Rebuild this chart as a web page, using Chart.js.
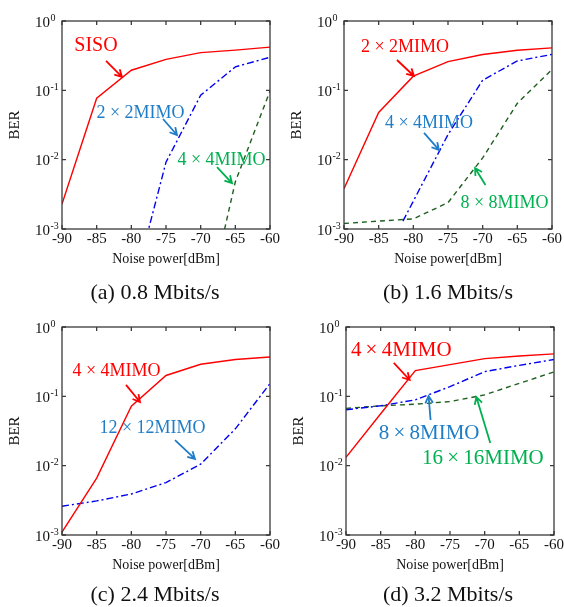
<!DOCTYPE html>
<html><head><meta charset="utf-8">
<script src="https://cdn.jsdelivr.net/npm/chart.js@4/dist/chart.umd.min.js"></script>
<style>
body{margin:0;background:#fff;}
#wrap{position:relative;width:564px;height:607px;overflow:hidden;background:#fff;}
.p{position:absolute;width:282px;height:280px;}
.cap{position:absolute;font-family:'Liberation Serif','Times New Roman',serif;font-size:22px;color:#111;transform:translate(-50%,-50%);white-space:nowrap;z-index:5;}
</style></head><body>
<div id="wrap">
<div class="p" style="left:0;top:0"><canvas id="ca" width="282" height="280"></canvas></div>
<div class="p" style="left:282px;top:0"><canvas id="cb" width="282" height="280"></canvas></div>
<div class="p" style="left:0;top:306px"><canvas id="cc" width="282" height="280"></canvas></div>
<div class="p" style="left:284px;top:306px"><canvas id="cd" width="282" height="280"></canvas></div>
<div class="cap" style="left:155px;top:292px">(a) 0.8 Mbits/s</div>
<div class="cap" style="left:448px;top:292px">(b) 1.6 Mbits/s</div>
<div class="cap" style="left:155px;top:594px">(c) 2.4 Mbits/s</div>
<div class="cap" style="left:448px;top:594px">(d) 3.2 Mbits/s</div>
</div>
<script>
// ---- data ----
const xTicks = [-90, -85, -80, -75, -70, -65, -60];
const yTicks = [1e-3, 1e-2, 1e-1, 1];
const dBm = [-90, -85, -80, -75, -70, -65, -60];

// (a) 0.8 Mbits/s
const aSISO = [0.0023, 0.077, 0.195, 0.28, 0.35, 0.38, 0.42];
const aMIMO2x = [-80, -75, -70, -65, -60];
const aMIMO2 = [0.00011, 0.0092, 0.085, 0.218, 0.30];
const aMIMO4x = [-70, -65, -60];
const aMIMO4 = [0.00003, 0.0048, 0.098];

// (b) 1.6 Mbits/s
const bMIMO2 = [0.0038, 0.048, 0.16, 0.26, 0.328, 0.378, 0.41];
const bMIMO4x = [-81.5, -75, -70, -65, -60];
const bMIMO4 = [0.0013, 0.023, 0.14, 0.265, 0.33];
const bMIMO8 = [0.0012, 0.0013, 0.0014, 0.0024, 0.0106, 0.065, 0.2];

// (c) 2.4 Mbits/s
const cMIMO4 = [0.0011, 0.0066, 0.072, 0.20, 0.29, 0.34, 0.37];
const cMIMO12 = [0.0026, 0.0031, 0.0039, 0.0057, 0.0105, 0.034, 0.153];

// (d) 3.2 Mbits/s
const dMIMO4 = [0.0132, 0.056, 0.235, 0.287, 0.35, 0.381, 0.41];
const dMIMO8 = [0.064, 0.073, 0.089, 0.138, 0.227, 0.28, 0.34];
const dMIMO16 = [0.067, 0.073, 0.077, 0.084, 0.105, 0.154, 0.225];

// ---- styles ----
const RED = '#ff0000', BLUE_L = '#0000ee', GREEN_L = '#1f5f1f';
const BLUE_T = '#1f7dc8', GREEN_T = '#00b050';
const SERIF = "'Liberation Serif','Times New Roman',serif";

function pts(xs, ys) { return xs.map((x, i) => ({x: x, y: ys[i]})); }
function ds(xs, ys, color, dash) {
  return {data: pts(xs, ys), borderColor: color, borderWidth: 1.4, borderDash: dash,
          pointRadius: 0, fill: false, tension: 0};
}
const SOLID = [], DASHDOT = [7, 3, 2, 3], DASHED = [5, 4];

const deco = {
  id: 'deco',
  afterDraw(chart, args, opts) {
    const {ctx, chartArea: a, scales: {x, y}} = chart;
    ctx.save();
    ctx.strokeStyle = '#3a3a3a';
    ctx.lineWidth = 1.3;
    ctx.strokeRect(a.left, a.top, a.right - a.left, a.bottom - a.top);
    ctx.beginPath();
    xTicks.forEach(v => {
      const px = x.getPixelForValue(v);
      ctx.moveTo(px, a.bottom); ctx.lineTo(px, a.bottom - 4);
      ctx.moveTo(px, a.top); ctx.lineTo(px, a.top + 4);
    });
    yTicks.forEach(v => {
      const py = y.getPixelForValue(v);
      ctx.moveTo(a.left, py); ctx.lineTo(a.left + 4, py);
      ctx.moveTo(a.right, py); ctx.lineTo(a.right - 4, py);
    });
    ctx.stroke();
    // y tick labels 10^n
    ctx.fillStyle = '#111';
    ctx.textBaseline = 'alphabetic';
    yTicks.forEach(v => {
      const py = y.getPixelForValue(v);
      const e = String(Math.round(Math.log10(v)));
      ctx.font = '15px ' + SERIF;
      ctx.textAlign = 'right';
      ctx.fillText('10', a.left - 12, py + 5.5);
      ctx.font = '10px ' + SERIF;
      ctx.textAlign = 'left';
      ctx.fillText(e, a.left - 11.5, py - 0.5);
    });
    // annotations
    (opts.notes || []).forEach(n => {
      ctx.fillStyle = n.color;
      ctx.strokeStyle = n.color;
      ctx.font = n.size + 'px ' + SERIF;
      ctx.textAlign = 'center';
      ctx.textBaseline = 'middle';
      ctx.fillText(n.text, x.getPixelForValue(n.x), y.getPixelForValue(n.y));
      const x1 = x.getPixelForValue(n.ax1), y1 = y.getPixelForValue(n.ay1);
      const x2 = x.getPixelForValue(n.ax2), y2 = y.getPixelForValue(n.ay2);
      const ang = Math.atan2(y2 - y1, x2 - x1), L = 8, w = 0.5;
      ctx.lineWidth = 1.8;
      ctx.setLineDash([]);
      ctx.beginPath();
      ctx.moveTo(x1, y1); ctx.lineTo(x2, y2);
      ctx.moveTo(x2 - L * Math.cos(ang - w), y2 - L * Math.sin(ang - w));
      ctx.lineTo(x2, y2);
      ctx.lineTo(x2 - L * Math.cos(ang + w), y2 - L * Math.sin(ang + w));
      ctx.stroke();
    });
    ctx.restore();
  }
};

function make(id, datasets, notes) {
  new Chart(document.getElementById(id), {
    type: 'line',
    data: {datasets: datasets},
    plugins: [deco],
    options: {
      responsive: false,
      animation: false,
      layout: {padding: {top: 21, right: 12, left: 0, bottom: 0}},
      plugins: {legend: {display: false}, tooltip: {enabled: false}, deco: {notes: notes}},
      scales: {
        x: {
          type: 'linear', min: -90, max: -60,
          afterBuildTicks: s => { s.ticks = xTicks.map(v => ({value: v})); },
          afterFit: s => { s.height = 51; },
          grid: {display: false}, border: {display: false},
          ticks: {font: {family: SERIF, size: 15}, color: '#111', padding: -7,
                  maxRotation: 0, callback: v => String(v)},
          title: {display: true, text: 'Noise power[dBm]', color: '#111',
                  font: {family: SERIF, size: 14}, padding: {top: 0, bottom: 12}}
        },
        y: {
          type: 'logarithmic', min: 1e-3, max: 1,
          afterBuildTicks: s => { s.ticks = yTicks.map(v => ({value: v})); },
          afterFit: s => { s.width = 62; },
          grid: {display: false}, border: {display: false},
          ticks: {display: false},
          title: {display: true, text: 'BER', color: '#111',
                  font: {family: SERIF, size: 15}, padding: {top: 6.5, bottom: 0}}
        }
      }
    }
  });
}

make('ca', [
  ds(dBm, aSISO, RED, SOLID),
  ds(aMIMO2x, aMIMO2, BLUE_L, DASHDOT),
  ds(aMIMO4x, aMIMO4, GREEN_L, DASHED)
], [
  {text: 'SISO', color: RED, size: 20, x: -85.1, y: 0.436, ax1: -83.65, ay1: 0.265, ax2: -81.35, ay2: 0.156},
  {text: '2 × 2MIMO', color: BLUE_T, size: 18, x: -78.68, y: 0.0471, ax1: -75.43, ay1: 0.0386, ax2: -73.41, ay2: 0.0227},
  {text: '4 × 4MIMO', color: GREEN_T, size: 18, x: -66.99, y: 0.00989, ax1: -67.64, ay1: 0.00783, ax2: -65.48, ay2: 0.0046}
]);

make('cb', [
  ds(dBm, bMIMO2, RED, SOLID),
  ds(bMIMO4x, bMIMO4, BLUE_L, DASHDOT),
  ds(dBm, bMIMO8, GREEN_L, DASHED)
], [
  {text: '2 × 2MIMO', color: RED, size: 18, x: -81.2, y: 0.415, ax1: -82.36, ay1: 0.274, ax2: -79.91, ay2: 0.161},
  {text: '4 × 4MIMO', color: BLUE_T, size: 18, x: -77.74, y: 0.0338, ax1: -78.46, ay1: 0.0243, ax2: -76.3, ay2: 0.0138},
  {text: '8 × 8MIMO', color: GREEN_T, size: 18, x: -66.85, y: 0.00237, ax1: -69.6, ay1: 0.00431, ax2: -71.1, ay2: 0.00758}
]);

make('cc', [
  ds(dBm, cMIMO4, RED, SOLID),
  ds(dBm, cMIMO12, BLUE_L, DASHDOT)
], [
  {text: '4 × 4MIMO', color: RED, size: 18, x: -82.14, y: 0.232, ax1: -80.77, ay1: 0.146, ax2: -78.75, ay2: 0.0828},
  {text: '12 × 12MIMO', color: BLUE_T, size: 18, x: -76.95, y: 0.0349, ax1: -73.7, ay1: 0.0234, ax2: -70.82, ay2: 0.0125}
]);

make('cd', [
  ds(dBm, dMIMO4, RED, SOLID),
  ds(dBm, dMIMO8, BLUE_L, DASHDOT),
  ds(dBm, dMIMO16, GREEN_L, DASHED)
], [
  {text: '4\u2009×\u20094MIMO', color: RED, size: 21, x: -82.03, y: 0.451, ax1: -83.11, ay1: 0.303, ax2: -80.81, ay2: 0.172},
  {text: '8\u2009×\u20098MIMO', color: BLUE_T, size: 21, x: -78.01, y: 0.0296, ax1: -77.8, ay1: 0.0456, ax2: -78.09, ay2: 0.101},
  {text: '16\u2009×\u200916MIMO', color: GREEN_T, size: 21, x: -70.26, y: 0.0125, ax1: -69.19, ay1: 0.0212, ax2: -71.2, ay2: 0.0978}
]);
</script>
</body></html>
